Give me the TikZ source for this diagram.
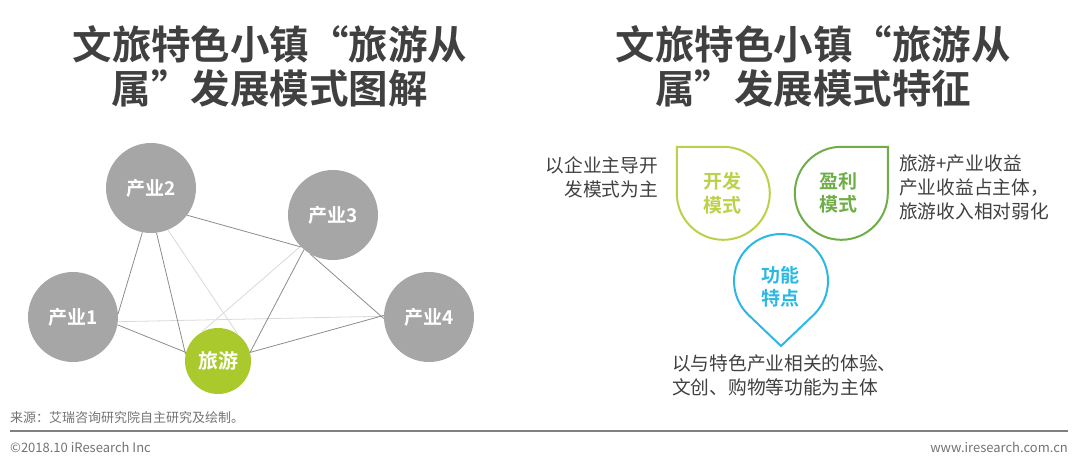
\documentclass[tikz,border=0pt]{standalone}
\usepackage{fontspec}
\setmainfont{Noto Sans CJK SC}[BoldFont={Noto Sans CJK SC Bold}]
\usepackage{xcolor}
\usepackage{tikz}
\usetikzlibrary{positioning}

\definecolor{titlegray}{HTML}{404040}
\definecolor{bubblegray}{HTML}{A6A6A6}
\definecolor{tourgreen}{HTML}{A9C92C}
\definecolor{limeline}{HTML}{BDD04A}
\definecolor{leafgreen}{HTML}{6FAE47}
\definecolor{skyblue}{HTML}{2DB8E3}

\begin{document}
\begin{tikzpicture}[x=1pt, y=1pt,
  industry/.style={circle, fill=bubblegray, minimum size=90pt, inner sep=0pt, text=white, font=\fontsize{19}{19}\selectfont\bfseries},
  tourism/.style={circle, fill=tourgreen, minimum size=66pt, inner sep=0pt, text=white, font=\fontsize{20}{20}\selectfont\bfseries},
  link/.style={draw=black!45, line width=0.8pt},
  faint/.style={draw=black!15, line width=0.8pt},
  title/.style={align=center, text=titlegray, font=\fontsize{39.5}{44}\selectfont\bfseries},
  leaf/.style={line width=2pt},
  leaftext/.style={align=center, font=\fontsize{19}{23.5}\selectfont\bfseries},
  note/.style={inner sep=0pt, text=titlegray, font=\fontsize{18.7}{24}\selectfont},
  foot/.style={inner sep=0pt, text=black!55, font=\fontsize{13}{13}\selectfont}
]
\useasboundingbox (0,0) rectangle (1080,-464);

\node[title] (title-left) at (270,-66) {文旅特色小镇“旅游从\\属”发展模式图解};
\node[title] (title-right) at (813,-66) {文旅特色小镇“旅游从\\属”发展模式特征};

\node[industry] (ind1) at (73,-317) {产业1};
\node[industry] (ind2) at (151,-188) {产业2};
\node[industry] (ind3) at (333,-215) {产业3};
\node[industry] (ind4) at (429,-317) {产业4};
\node[tourism] (tour) at (218,-361) {旅游};

\draw[faint] (ind1.-6) -- (ind4.179);
\draw[faint] (ind2.292) -- (tour.53);
\draw[faint] (ind3.224) -- (tour.121);
\draw[link] (ind2.259) -- (ind1.4);
\draw[link] (ind2.277) -- (tour.168);
\draw[link] (ind2.-37) -- (ind3.225);
\draw[link] (ind3.230) -- (tour.15);
\draw[link] (ind3.240) -- (ind4.182);
\draw[link] (ind1.-10) -- (tour.165);
\draw[link] (tour.15) -- (ind4.178);

\draw[leaf, limeline] (676.8,-146.8) -- (723.3,-146.8) arc[start angle=90, end angle=-180, radius=46.5] -- cycle;
\node[leaftext, text=limeline] (dev-mode) at (722,-193) {开发\\模式};
\draw[leaf, leafgreen] (887.8,-146.8) -- (887.8,-193.3) arc[start angle=0, end angle=-270, radius=46.5] -- cycle;
\node[leaftext, text=leafgreen] (profit-mode) at (838,-193) {盈利\\模式};
\draw[leaf, skyblue] (781,-346) -- (813.5,-315) arc[start angle=-46.3, end angle=226.3, radius=47] -- cycle;
\node[leaftext, text=skyblue] (func-mode) at (780,-287) {功能\\特点};

\node[note, align=right, anchor=east] (dev-note) at (658,-177) {以企业主导开\\发模式为主};
\node[note, align=left, anchor=west] (profit-note) at (899,-187) {旅游+产业收益\\产业收益占主体，\\旅游收入相对弱化};
\node[note, align=left, anchor=west] (func-note) at (672,-375) {以与特色产业相关的体验、\\文创、购物等功能为主体};

\node[foot, anchor=west] (source) at (10,-418) {来源：艾瑞咨询研究院自主研究及绘制。};
\draw[black!50, line width=1.5pt] (10,-431) -- (1068,-431);
\node[foot, anchor=west] (copyright) at (10,-447) {©2018.10 iResearch Inc};
\node[foot, anchor=east] (website) at (1068,-447) {www.iresearch.com.cn};
\end{tikzpicture}
\end{document}
